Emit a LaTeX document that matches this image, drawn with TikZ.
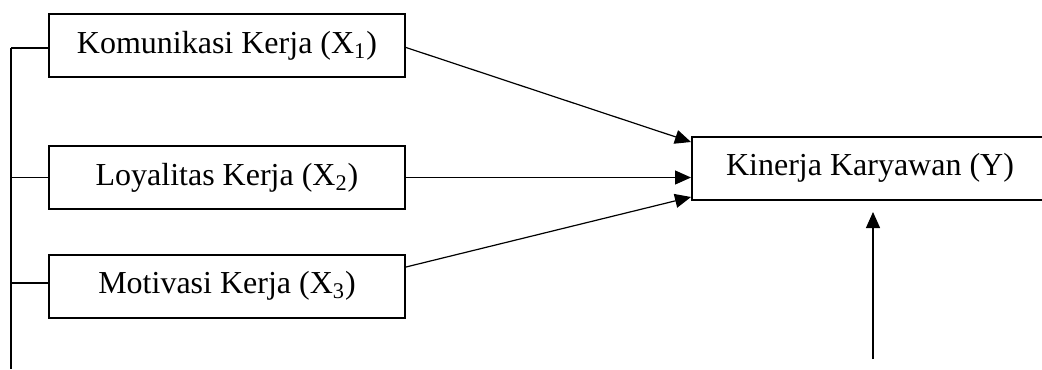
\documentclass[tikz,border=0pt]{standalone}
\usepackage{fontspec}
\setmainfont{Liberation Serif}
\usetikzlibrary{arrows.meta,positioning,calc}

\tikzset{
  varbox/.style={draw, line width=1pt, minimum width=178pt, minimum height=31.5pt,
    inner sep=0pt, font=\fontsize{16}{19}\selectfont},
  link/.style={line width=0.6pt},
  arr/.style={link, -{Triangle[length=8pt,width=7pt]}}
}

\begin{document}
\begin{tikzpicture}[x=0.5pt,y=-0.5pt]
  \useasboundingbox (0,0) rectangle (1042,369);

  % Variables
  \node[varbox] (x1) at (227,45.5) {Komunikasi Kerja (X\textsubscript{1})};
  \node[varbox] (x2) at (227,177.5) {Loyalitas Kerja (X\textsubscript{2})};
  \node[varbox] (x3) at (227,286) {Motivasi Kerja (X\textsubscript{3})};
  \node[varbox] (y) at (870,168) {Kinerja Karyawan (Y)};

  % Left bracket line
  \coordinate (spinetop) at (11,48);
  \coordinate (spinebot) at (11,369);
  \draw[link] (spinetop) -- (spinebot);
  \draw[link] (spinetop) -- (x1.west |- spinetop);
  \draw[link] (spinetop |- x2.west) -- (x2.west);
  \draw[link] (11,283) -- (x3.west |- 0,283);

  % Arrows to Y
  \draw[arr] ([yshift=-1pt]x1.east) -- ([yshift=13pt]y.west);
  \draw[arr] (x2.east) -- (x2.east -| y.west);
  \draw[arr] ([yshift=9.5pt]x3.east) -- ([yshift=-14.5pt]y.west);

  % Error term
  \coordinate (etail) at (873,359);
  \draw[arr] (etail) -- (873,212);
\end{tikzpicture}
\end{document}
